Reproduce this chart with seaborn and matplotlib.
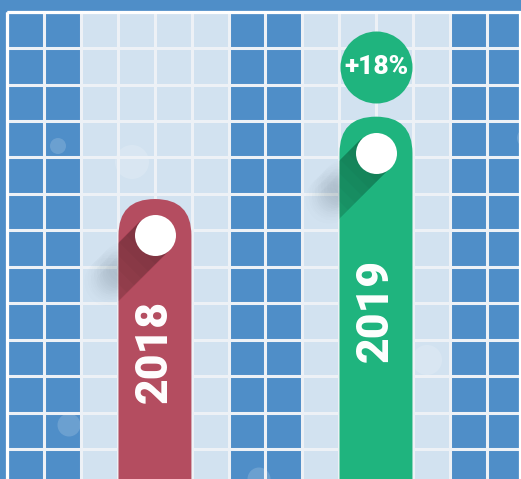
import numpy as np
import matplotlib
matplotlib.use('Agg')
from matplotlib import pyplot as plt
from matplotlib.patches import FancyBboxPatch, Polygon, Circle, Rectangle
from matplotlib.transforms import IdentityTransform
import seaborn as sns

# data
years = ['2018', '2019']
values = [100, 127]
bar_colors = ['#b44d60', '#1fb47e']
growth_label = '+18%'

# decoration (pixel coords from top-left)
W, H = 521, 479
DARK_BLUE = '#4f8ec8'
LIGHT_BLUE = '#d2e2f0'
LINE = '#edf1f6'
cell_w, cell_h = 36.88, 36.44
grid_x0, grid_y0 = 7.3, 11.7
light_cols = [2, 3, 4, 5, 8, 9, 10, 11]
bubbles = [(58, 146, 8), (132, 162, 17), (69, 425, 11.5), (427, 360, 15),
           (259, 479, 11.5), (527, 138, 10)]

sns.set_theme(style='white')
plt.rcParams['font.family'] = ['Roboto', 'DejaVu Sans']

fig = plt.figure(figsize=(W / 100, H / 100), dpi=100)
fig.patch.set_facecolor(DARK_BLUE)

# background tiles
bg = fig.add_axes([0, 0, 1, 1], zorder=0)
bg.set_xlim(0, W)
bg.set_ylim(H, 0)
bg.axis('off')
for c in light_cols:
    bg.add_patch(Rectangle((grid_x0 + c * cell_w, grid_y0), cell_w, H, color=LIGHT_BLUE, lw=0))
xs = grid_x0 + cell_w * np.arange(15)
ys = grid_y0 + cell_h * np.arange(14)
bg.vlines(xs, grid_y0, H, color=LINE, lw=2.2)
bg.hlines(ys, grid_x0, W, color=LINE, lw=2.2)
bg.vlines([grid_x0, W - 0.6], grid_y0, H, color='white', lw=2.3)
bg.hlines([grid_y0], grid_x0, W, color='white', lw=2.3)
for bx, by, br in bubbles:
    bg.add_patch(Circle((bx, by), br, color='white', alpha=0.16, lw=0))

# bars
ax = fig.add_axes([0, 0, 1, 1], zorder=1)
ax.patch.set_alpha(0)
sns.barplot(x=years, y=values, hue=years, palette=bar_colors, width=0.33,
            saturation=1, legend=False, ax=ax)
ax.set_xlim(-0.701, 1.656)
ax.set_ylim(8.2, 165.25)
ax.set_autoscale_on(False)
ax.axis('off')

px_x = W / (1.656 + 0.701)
px_y = H / (165.25 - 8.2)
aspect = px_x / px_y

bars = list(ax.patches)
for i, (bar, color) in enumerate(zip(bars, bar_colors)):
    x, w, h = bar.get_x(), bar.get_width(), bar.get_height()
    bar.remove()
    rounded = FancyBboxPatch((x, -60), w, h + 60,
                             boxstyle=f'round,pad=0,rounding_size={w / 2}',
                             mutation_aspect=aspect, color=color, lw=0, zorder=3)
    ax.add_patch(rounded)

    xc = x + w / 2
    cap_y = h - (w / 2) * aspect
    cx, cy = ax.transData.transform((xc, cap_y))
    r = 20.5
    d = np.array([-1.0, -1.0]) / np.sqrt(2)
    n = np.array([1.0, -1.0]) / np.sqrt(2)
    p1 = np.array([cx, cy]) + r * n
    p2 = np.array([cx, cy]) - r * n

    # long shadow inside the bar
    for L in np.linspace(10, 120, 12):
        poly = Polygon([p1, p2, p2 + L * d, p1 + L * d], closed=True,
                       transform=IdentityTransform(), color='black',
                       alpha=0.026, lw=0, zorder=4)
        ax.add_patch(poly)
        poly.set_clip_path(rounded)

    # soft shadow spilling outside the bar
    edge_x = ax.transData.transform((x, cap_y))[0]
    t0 = (cx - edge_x) * np.sqrt(2)
    for t in np.linspace(t0 - 8, t0 + 14, 6):
        centre = np.array([cx, cy]) + t * d
        for rr in (24, 18, 12):
            ax.add_patch(Circle(centre, rr, transform=IdentityTransform(),
                                color='#33475c', alpha=0.012, lw=0, zorder=2))

    ax.scatter([xc], [cap_y], s=(2 * r * 0.72) ** 2, color='white',
               linewidths=0, zorder=5)
    ax.text(xc, h / 2, years[i], rotation=90, ha='center', va='center',
            color='white', fontsize=32, fontweight='black', zorder=6)

# growth badge above the second bar
badge_y = values[1] + 50 / px_y
ax.scatter([1], [badge_y], s=(72 * 0.72) ** 2, color=bar_colors[1],
           linewidths=0, zorder=5)
ax.text(1, badge_y, growth_label, ha='center', va='center', color='white',
        fontsize=19, fontweight='black', zorder=6)

fig.savefig('out.png', dpi=100, facecolor=fig.get_facecolor())
